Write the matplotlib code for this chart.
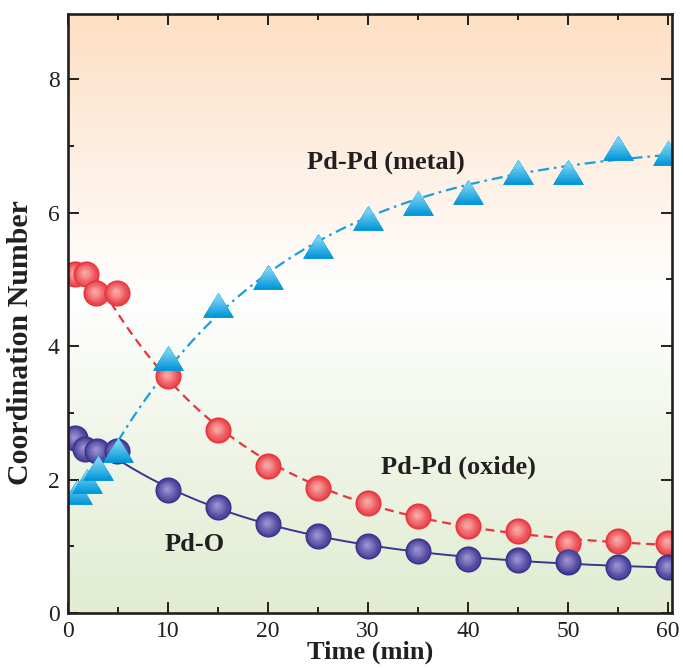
import numpy as np
import matplotlib
matplotlib.use("Agg")
import matplotlib.pyplot as plt
from matplotlib.colors import LinearSegmentedColormap, to_rgb
from matplotlib.transforms import offset_copy
from matplotlib.ticker import MultipleLocator

# ---------------- data ----------------
time_oxide = [0.7, 1.8, 2.8, 4.9, 10, 15, 20, 25, 30, 35, 40, 45, 50, 55, 60]
pdpd_oxide = [5.08, 5.08, 4.80, 4.80, 3.55, 2.74, 2.20, 1.87, 1.65, 1.45, 1.30, 1.23, 1.05, 1.08, 1.05]

time_pdo = [0.7, 1.7, 2.9, 4.9, 10, 15, 20, 25, 30, 35, 40, 45, 50, 55, 60]
pd_o = [2.62, 2.46, 2.43, 2.43, 1.84, 1.59, 1.33, 1.15, 1.00, 0.93, 0.81, 0.79, 0.77, 0.69, 0.69]

time_metal = [0.9, 1.9, 3.0, 5.0, 10, 15, 20, 25, 30, 35, 40, 45, 50, 55, 60]
pdpd_metal = [1.81, 1.98, 2.17, 2.44, 3.82, 4.62, 5.03, 5.50, 5.92, 6.15, 6.31, 6.61, 6.61, 6.97, 6.90]

x_ticks = [0, 10, 20, 30, 40, 50, 60]
y_ticks = [0, 2, 4, 6, 8]

SERIF = ["Liberation Serif", "DejaVu Serif"]
plt.rcParams["font.family"] = SERIF

fig = plt.figure(figsize=(6.83, 6.68), dpi=100)
ax = fig.add_axes([68 / 683, 55 / 668, (672 - 68) / 683, (613 - 14) / 668])
XMAX, YMAX = 60.4, 8.98
ax.set_xlim(0, XMAX)
ax.set_ylim(0, YMAX)

# ---------------- background gradient ----------------
bg = LinearSegmentedColormap.from_list(
    "bg", [(0.0, "#e1ecd0"), (0.30, "#f1f6ea"), (0.535, "#ffffff"), (0.70, "#fef3ea"), (1.0, "#fddfc3")])
grad = np.linspace(0, 1, 256).reshape(-1, 1)
ax.imshow(grad, cmap=bg, origin="lower", extent=(0, XMAX, 0, YMAX), aspect="auto", zorder=0,
          interpolation="bicubic")


# ---------------- fitted guide curves ----------------
def exp_fit(x, y, start):
    x = np.asarray(x, float)
    y = np.asarray(y, float)
    m = x >= start
    xs, ys = x[m], y[m]
    best = None
    for tau in np.linspace(2, 80, 800):
        A = np.column_stack([np.ones_like(xs), np.exp(-xs / tau)])
        coef, *_ = np.linalg.lstsq(A, ys, rcond=None)
        err = np.sum((A @ coef - ys) ** 2)
        if best is None or err < best[0]:
            best = (err, tau, coef)
    _, tau, (a, b) = best
    xx = np.linspace(start, 60, 300)
    return xx, a + b * np.exp(-xx / tau)


xx, yy = exp_fit(time_oxide, pdpd_oxide, 2.8)
ax.plot(xx, yy, color="#e8343f", lw=1.6, ls=(0, (4, 2.6)), zorder=2)
xx, yy = exp_fit(time_pdo, pd_o, 2.9)
ax.plot(xx, yy, color="#3a3591", lw=1.4, ls="-", zorder=2)
xx, yy = exp_fit(time_metal, pdpd_metal, 5.0)
ax.plot(xx, yy, color="#1b9fdc", lw=1.6, ls=(0, (5, 2.2, 1.2, 2.2)), zorder=2)


# ---------------- shaded markers ----------------
def mix(c1, c2, f):
    a, b = np.array(to_rgb(c1)), np.array(to_rgb(c2))
    return tuple(a + (b - a) * f)


def spheres(x, y, dark, light, size, z, n=10):
    for xi, yi in zip(x, y):
        for k in range(n):
            f = k / (n - 1)
            tr = offset_copy(ax.transData, fig=fig, x=-1.2 * f, y=1.2 * f, units="points")
            ax.plot([xi], [yi], marker="o", ms=size * (1 - 0.85 * f), mew=0,
                    color=mix(dark, light, f ** 0.9), transform=tr, zorder=z, ls="none")


TRI = [(0, 0.8), (-1, -0.8), (1, -0.8)]


def triangles(x, y, dark, light, size, z, n=10):
    for xi, yi in zip(x, y):
        for k in range(n):
            f = k / (n - 1)
            s = size * (1 - 0.75 * f)
            tr = offset_copy(ax.transData, fig=fig, x=0, y=0.4 * (size - s), units="points")
            ax.plot([xi], [yi], marker=TRI, ms=s, mew=0,
                    color=mix(dark, light, f), transform=tr, zorder=z, ls="none")


spheres(time_oxide, pdpd_oxide, "#e8333d", "#f9a7a4", 18.8, 3)
spheres(time_pdo, pd_o, "#39338e", "#9a8fd0", 18.8, 4)
triangles(time_metal, pdpd_metal, "#0096d8", "#74cff2", 22.4, 5)

# ---------------- labels ----------------
ax.text(31.8, 6.75, "Pd-Pd (metal)", fontsize=19, fontweight="bold", ha="center", va="center",
        color="#231f20", zorder=6)
ax.text(39.0, 2.18, "Pd-Pd (oxide)", fontsize=19, fontweight="bold", ha="center", va="center",
        color="#231f20", zorder=6)
ax.text(12.7, 1.02, "Pd-O", fontsize=19, fontweight="bold", ha="center", va="center",
        color="#231f20", zorder=6)

ax.set_xlabel("Time (min)", fontsize=19, fontweight="bold", color="#231f20", labelpad=-1)
ax.set_ylabel("Coordination Number", fontsize=21.5, fontweight="bold", color="#231f20")
ax.yaxis.set_label_coords(-0.056, 0.452)

# ---------------- axes style ----------------
ax.set_xticks(x_ticks)
ax.set_yticks(y_ticks)
ax.xaxis.set_minor_locator(MultipleLocator(5))
ax.yaxis.set_minor_locator(MultipleLocator(1))
ax.tick_params(which="both", direction="in", top=True, right=True, color="#231f20", width=1.4)
ax.tick_params(which="major", length=8, labelsize=17, pad=6, labelcolor="#231f20")
ax.tick_params(which="minor", length=4)
for sp in ax.spines.values():
    sp.set_linewidth(1.9)
    sp.set_color("#231f20")
    sp.set_zorder(7)

fig.savefig("out.png", dpi=100)
